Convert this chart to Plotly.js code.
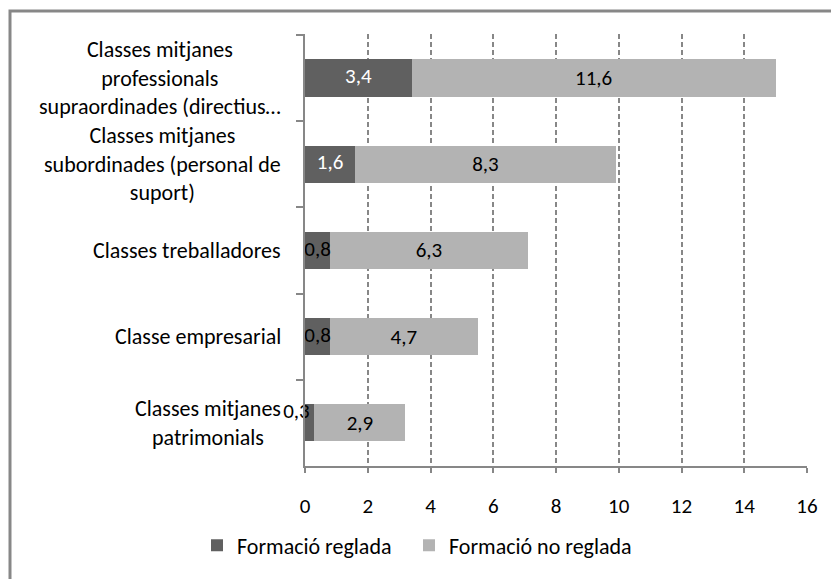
<!DOCTYPE html>
<html>
<head>
<meta charset="utf-8">
<script src="https://cdn.plot.ly/plotly-3.0.1.min.js"></script>
<style>html,body{margin:0;padding:0;background:#fff;}#chart{width:831px;height:579px;}</style>
</head>
<body>
<div id="chart"></div>
<script>
var categories = [
  "Classes mitjanes<br>professionals<br>supraordinades (directius…",
  "Classes mitjanes<br>subordinades (personal de<br>suport)",
  "Classes treballadores",
  "Classe empresarial",
  "Classes mitjanes<br>patrimonials"
];
var formacioReglada = [3.4, 1.6, 0.8, 0.8, 0.3];
var formacioNoReglada = [11.6, 8.3, 6.3, 4.7, 2.9];
var seriesNames = ["Formació reglada", "Formació no reglada"];
var xTicks = [0, 2, 4, 6, 8, 10, 12, 14, 16];

var FONT = "Carlito, Lato, 'Noto Sans', sans-serif";
var FS_TEXT = 22;
var FS_NUM = 21;
var fmt = function (v) { return v.toFixed(1).replace('.', ','); };
var catKeys = categories.map(function (c, i) { return 'c' + i; });

var traces = [
  {
    type: 'bar', orientation: 'h', name: seriesNames[0], legend: 'legend',
    y: catKeys, x: formacioReglada,
    marker: {color: '#606060'},
    textposition: 'none', hoverinfo: 'x'
  },
  {
    type: 'bar', orientation: 'h', name: seriesNames[1], legend: 'legend2',
    y: catKeys, x: formacioNoReglada,
    marker: {color: '#b3b3b3'},
    text: formacioNoReglada.map(fmt),
    textposition: 'inside', insidetextanchor: 'middle',
    textangle: 0, constraintext: 'none',
    textfont: {family: FONT, size: FS_NUM, color: '#000'},
    hoverinfo: 'x'
  },
  {
    type: 'scatter', mode: 'text', showlegend: false, hoverinfo: 'skip',
    cliponaxis: false,
    y: catKeys, x: formacioReglada.map(function (v) { return v / 2; }),
    text: formacioReglada.map(fmt),
    textposition: formacioReglada.map(function (v) { return v < 0.5 ? 'top left' : 'middle center'; }),
    textfont: {family: FONT, size: FS_NUM, color: formacioReglada.map(function (v) { return v > 1 ? '#ffffff' : '#000000'; })}
  }
];

var annotations = categories.map(function (c, i) {
  return {
    xref: 'paper', yref: 'y', x: 0, y: catKeys[i],
    xanchor: 'right', yanchor: 'middle', xshift: -22,
    text: c, showarrow: false, align: 'center',
    font: {family: FONT, size: FS_TEXT, color: '#000'}
  };
});

function legendAt(px) {
  return {
    orientation: 'h', x: (px - 305) / 502, xanchor: 'left', y: -0.184, yanchor: 'middle',
    font: {family: FONT, size: FS_TEXT, color: '#000'},
    itemwidth: 30, bgcolor: 'rgba(0,0,0,0)'
  };
}

var layout = {
  width: 831, height: 579,
  margin: {l: 305, r: 24, t: 34, b: 111},
  paper_bgcolor: '#fff', plot_bgcolor: '#fff',
  barmode: 'stack', bargap: 0.57,
  font: {family: FONT, size: FS_TEXT, color: '#000'},
  showlegend: true,
  legend: legendAt(197),
  legend2: legendAt(409),
  xaxis: {
    range: [0, 16], tickvals: xTicks, ticktext: xTicks.map(String),
    showgrid: true, gridcolor: '#878787', gridwidth: 2, griddash: '5px,3px',
    zeroline: false, showline: true, linecolor: '#878787', linewidth: 2,
    ticks: 'outside', ticklen: 5, tickwidth: 2, tickcolor: '#878787',
    ticklabelstandoff: 15, fixedrange: true,
    tickfont: {family: FONT, size: FS_NUM, color: '#000'}
  },
  yaxis: {
    type: 'category', categoryorder: 'array', categoryarray: catKeys,
    autorange: 'reversed', showticklabels: false, showgrid: false,
    zeroline: false, showline: true, linecolor: '#878787', linewidth: 2,
    ticks: 'outside', tickson: 'boundaries', ticklen: 7, tickwidth: 2, tickcolor: '#878787',
    fixedrange: true
  },
  annotations: annotations,
  shapes: [{
    type: 'rect', xref: 'paper', yref: 'paper',
    x0: (10 - 305) / 502, x1: (840 - 305) / 502,
    y0: (468 - 590) / 434, y1: (468 - 11) / 434,
    line: {color: '#878787', width: 3}, fillcolor: 'rgba(0,0,0,0)', layer: 'below'
  }]
};

Plotly.newPlot('chart', traces, layout, {displayModeBar: false, staticPlot: true});
</script>
</body>
</html>
